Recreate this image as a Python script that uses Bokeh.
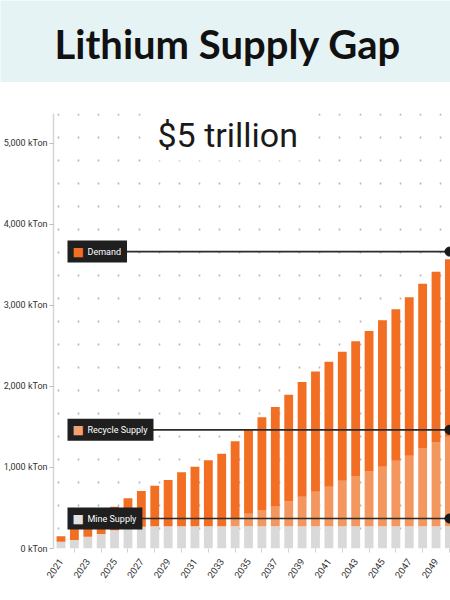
import math
from bokeh.plotting import figure
from bokeh.layouts import column
from bokeh.models import Range1d, Label, FixedTicker, ColumnDataSource
from bokeh.embed import file_html
from bokeh.resources import INLINE

# ---------------- data ----------------
title_text = "Lithium Supply Gap"
headline_text = "$5 trillion"

years = [2021, 2022, 2023, 2024, 2025, 2026, 2027, 2028, 2029, 2030,
         2031, 2032, 2033, 2034, 2035, 2036, 2037, 2038, 2039, 2040,
         2041, 2042, 2043, 2044, 2045, 2046, 2047, 2048, 2049, 2050]

demand = [150, 257, 345, 430, 516, 620, 710, 775, 846, 940,
          1010, 1089, 1171, 1323, 1463, 1620, 1747, 1899, 2056, 2185,
          2305, 2430, 2558, 2685, 2817, 2953, 3101, 3269, 3417, 3570]

mine_supply = [84, 105, 146, 180, 225, 262, 270, 275, 275, 275,
               275, 275, 275, 275, 275, 275, 275, 275, 275, 275,
               275, 275, 275, 275, 275, 275, 275, 275, 275, 275]

recycle_supply = [0, 0, 0, 0, 0, 0, 0, 0, 0, 0,
                  0, 0, 0, 98, 155, 200, 250, 311, 365, 426,
                  488, 562, 620, 682, 735, 809, 871, 966, 1040, 1105]

tick_years = [2021, 2023, 2025, 2027, 2029, 2031, 2033, 2035, 2037, 2039,
              2041, 2043, 2045, 2047, 2049]
minor_tick_years = [2022, 2024, 2026, 2028, 2030, 2032, 2034, 2036, 2038,
                    2040, 2042, 2044, 2046, 2048, 2050]

y_ticks = [0, 1000, 2000, 3000, 4000, 5000]
y_tick_labels = ["0 kTon", "1,000 kTon", "2,000 kTon", "3,000 kTon",
                 "4,000 kTon", "5,000 kTon"]

callout_names = ["Demand", "Recycle Supply", "Mine Supply"]
callout_values = [3665, 1465, 370]

# ---------------- style ----------------
DARK = "#F26E22"
LIGHT = "#F4975F"
GRAY = "#D9D9D9"
SQUARE_COLORS = ["#F26E22", "#F4A070", "#E2E2E2"]
BAND = "#E6F3F4"
FONT = "Roboto"

W = 450
X_START, X_END = 2020.44, 2050.08

# ---------------- title band ----------------
tf = figure(width=W, height=82, x_range=Range1d(0, W), y_range=Range1d(0, 82),
            x_axis_type=None, y_axis_type=None,
            toolbar_location=None, output_backend="svg", min_border=0)
tf.frame_align = False
tf.grid.visible = False
tf.outline_line_color = None
tf.background_fill_color = BAND
tf.border_fill_color = BAND
tf.add_layout(Label(x=54, y=39, text=title_text, text_align="left",
                    text_baseline="alphabetic", text_font="Lato",
                    text_font_style="bold", text_font_size="40px",
                    text_color="#111111"))

# ---------------- main chart ----------------
gap = [d - m - r for d, m, r in zip(demand, mine_supply, recycle_supply)]
source = ColumnDataSource(dict(year=years, mine=mine_supply,
                               recycle=recycle_supply, gap=gap))

p = figure(width=W, height=518, x_range=Range1d(X_START, X_END),
           y_range=Range1d(0, 5370), toolbar_location=None,
           output_backend="svg", min_border_top=31, min_border_bottom=52,
           min_border_right=0, min_border_left=5)
p.outline_line_color = None
p.background_fill_color = "white"

# dotted background grid
p.ygrid.visible = False
p.xgrid.ticker = FixedTicker(ticks=[2020.83 + 1.5 * k for k in range(21)])
p.xgrid.grid_line_color = "#B5B5B5"
p.xgrid.grid_line_width = 1.6
p.xgrid.grid_line_dash = "2 21"
p.xgrid.grid_line_dash_offset = 4

p.vbar_stack(["mine", "recycle", "gap"], x="year", width=0.66,
             color=[GRAY, LIGHT, DARK], line_color=None, source=source)

# callout lines with end dots
line_start = years[2] + 0.5
p.segment(x0=[line_start] * 3, x1=[years[-1]] * 3, y0=callout_values,
          y1=callout_values, line_color="#2B2B2B", line_width=1.6)
p.scatter(x=[years[-1]] * 3, y=callout_values, size=9, color="#1A1A1A")

for name, val, col in zip(callout_names, callout_values, SQUARE_COLORS):
    p.add_layout(Label(x=X_START, y=val, x_offset=14, text=name,
                       text_align="left", text_baseline="middle",
                       text_font=FONT, text_font_size="9px",
                       text_color="white", background_fill_color="#1F1F1F",
                       padding=dict(left=20, right=6, top=6, bottom=6)))
    p.add_layout(Label(x=X_START, y=val, x_offset=19, text="\u25A0",
                       text_align="left", text_baseline="middle",
                       text_font="DejaVu Sans", text_font_size="12px",
                       text_color=col))

p.add_layout(Label(x=X_START, y=5110, x_offset=98, text=headline_text,
                   text_align="left", text_baseline="alphabetic",
                   text_font="Roboto", text_font_size="34px",
                   text_color="#1A1A1A", background_fill_color="white",
                   padding=6))

# axes
p.yaxis.ticker = FixedTicker(ticks=y_ticks)
p.yaxis.major_label_overrides = {t: l for t, l in zip(y_ticks, y_tick_labels)}
p.yaxis.axis_line_color = "#D6D6D6"
p.yaxis.axis_line_width = 1.5
p.yaxis.major_tick_line_color = "#BDBDBD"
p.yaxis.major_tick_in = 0
p.yaxis.major_tick_out = 4
p.yaxis.minor_tick_line_color = None
p.yaxis.major_label_standoff = 2
p.yaxis.major_label_text_font = FONT
p.yaxis.major_label_text_font_size = "9px"
p.yaxis.major_label_text_color = "#333333"

p.xaxis.ticker = FixedTicker(ticks=tick_years, minor_ticks=minor_tick_years)
p.xaxis.axis_line_color = None
p.xaxis.major_tick_line_color = None
p.xaxis.minor_tick_line_color = "#D0D0D0"
p.xaxis.minor_tick_in = 0
p.xaxis.minor_tick_out = 4
p.xaxis.major_label_orientation = math.radians(55)
p.xaxis.major_label_standoff = 5
p.xaxis.major_label_text_font = FONT
p.xaxis.major_label_text_font_size = "9.5px"
p.xaxis.major_label_text_color = "#333333"

layout = column(tf, p, spacing=0)
open("out.html", "w").write(file_html(layout, INLINE))
